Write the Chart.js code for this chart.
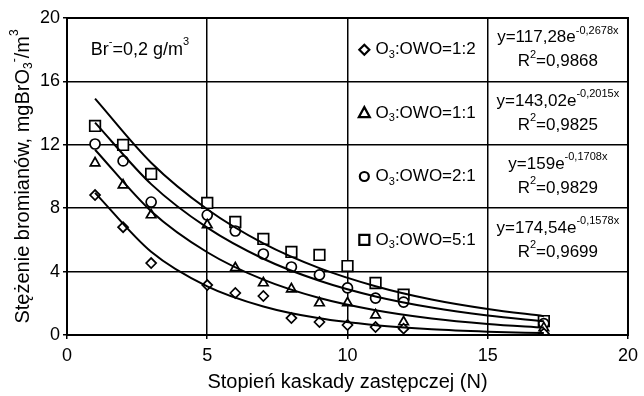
<!DOCTYPE html>
<html>
<head>
<meta charset="utf-8">
<script src="https://cdn.jsdelivr.net/npm/chart.js@4/dist/chart.umd.min.js"></script>
<style>
  html, body { margin: 0; padding: 0; background: #fff; }
  #wrap { width: 644px; height: 396px; }
</style>
</head>
<body>
<div id="wrap"><canvas id="c"></canvas></div>
<script>
// stages of the cascade (x) and measured bromate for each O3:OWO ratio
const stages = [1, 2, 3, 5, 6, 7, 8, 9, 10, 11, 12, 17];
const ratio12 = [8.83, 6.8, 4.54, 3.15, 2.65, 2.46, 1.07, 0.82, 0.63, 0.5, 0.4, 0.1];
const ratio11 = [10.85, 9.46, 7.57, 6.94, 4.23, 3.28, 2.9, 2.02, 2.02, 1.26, 0.82, 0.45];
const ratio21 = [12.05, 10.98, 8.39, 7.57, 6.56, 5.11, 4.29, 3.79, 2.97, 2.33, 2.08, 0.72];
const ratio51 = [13.19, 11.99, 10.16, 8.33, 7.13, 6.06, 5.24, 5.05, 4.35, 3.28, 2.55, 0.88];

// trend curves
const trendX = [1, 3, 5, 7, 9, 11, 13, 15, 17];
const trend12 = [8.97, 5.25, 3.07, 1.8, 1.05, 0.62, 0.36, 0.21, 0.12];
const trend11 = [11.69, 7.81, 5.22, 3.49, 2.33, 1.56, 1.04, 0.7, 0.47];
const trend21 = [13.4, 9.52, 6.77, 4.81, 3.42, 2.43, 1.73, 1.23, 0.87];
const trend51 = [14.91, 10.87, 7.93, 5.78, 4.22, 3.08, 2.24, 1.64, 1.19];

const xTicks = [0, 5, 10, 15, 20];
const yTicks = [0, 4, 8, 12, 16, 20];

const seriesNames = ['O3:OWO=1:2', 'O3:OWO=1:1', 'O3:OWO=2:1', 'O3:OWO=5:1'];
const equations = [
  ['117,28', '-0,2678x', '0,9868'],
  ['143,02', '-0,2015x', '0,9825'],
  ['159', '-0,1708x', '0,9829'],
  ['174,54', '-0,1578x', '0,9699']
];

const FONT = '"Liberation Sans", Arial, sans-serif';

function pts(xs, ys) {
  return xs.map((x, i) => ({ x: x, y: ys[i] }));
}

function markerSet(data, style, r) {
  return {
    type: 'scatter',
    data: data,
    pointStyle: style,
    pointRadius: r,
    pointHoverRadius: r,
    pointBorderWidth: 1.7,
    pointBorderColor: '#000',
    pointBackgroundColor: '#fff',
    showLine: false
  };
}

function trendSet(data) {
  return {
    type: 'line',
    data: data,
    borderColor: '#000',
    borderWidth: 2,
    pointRadius: 0,
    fill: false,
    cubicInterpolationMode: 'monotone'
  };
}

// text with sub/superscripts: runs = [[text, 'n'|'sub'|'sup'], ...]
function runWidth(ctx, runs, size) {
  let w = 0;
  runs.forEach(([t, k]) => {
    ctx.font = (k === 'n' ? size : Math.round(size * 0.62)) + 'px ' + FONT;
    w += ctx.measureText(t).width;
  });
  return w;
}

function drawRuns(ctx, runs, x, y, size, align) {
  let cx = align === 'center' ? x - runWidth(ctx, runs, size) / 2 : x;
  ctx.textBaseline = 'middle';
  ctx.textAlign = 'left';
  runs.forEach(([t, k]) => {
    const s = k === 'n' ? size : Math.round(size * 0.62);
    ctx.font = s + 'px ' + FONT;
    const dy = k === 'sup' ? -size * 0.42 : k === 'sub' ? size * 0.3 : 0;
    ctx.fillText(t, cx, y + dy);
    cx += ctx.measureText(t).width;
  });
}

function drawMarker(ctx, kind, x, y) {
  ctx.beginPath();
  if (kind === 'diamond') {
    ctx.moveTo(x, y - 5); ctx.lineTo(x + 5, y); ctx.lineTo(x, y + 5); ctx.lineTo(x - 5, y); ctx.closePath();
  } else if (kind === 'triangle') {
    ctx.moveTo(x, y - 6); ctx.lineTo(x + 5.5, y + 4); ctx.lineTo(x - 5.5, y + 4); ctx.closePath();
  } else if (kind === 'circle') {
    ctx.arc(x, y, 4.5, 0, Math.PI * 2);
  } else {
    ctx.rect(x - 5, y - 5, 10, 10);
  }
  ctx.stroke();
}

const annotations = {
  id: 'annotations',
  afterDraw(chart) {
    const ctx = chart.ctx;
    const xs = chart.scales.x, ys = chart.scales.y;
    const area = chart.chartArea;
    ctx.save();
    ctx.fillStyle = '#000';
    ctx.strokeStyle = '#000';

    // frame
    ctx.lineWidth = 2;
    ctx.strokeRect(area.left, area.top, area.right - area.left, area.bottom - area.top);

    // y title
    ctx.save();
    ctx.translate(23, (area.top + area.bottom) / 2);
    ctx.rotate(-Math.PI / 2);
    drawRuns(ctx, [['Stężenie bromianów, mgBrO', 'n'], ['3', 'sub'], ['-', 'sup'], ['/m', 'n'], ['3', 'sup']], 0, 0, 20, 'center');
    ctx.restore();

    // bromide dose
    drawRuns(ctx, [['Br', 'n'], ['-', 'sup'], ['=0,2 g/m', 'n'], ['3', 'sup']],
      xs.getPixelForValue(2.6), ys.getPixelForValue(18), 18, 'center');

    // legend cells and equations
    const kinds = ['diamond', 'triangle', 'circle', 'square'];
    const rowY = [18, 14, 10, 6];
    ctx.lineWidth = 2.2;
    seriesNames.forEach((name, i) => {
      const py = ys.getPixelForValue(rowY[i]);
      drawMarker(ctx, kinds[i], xs.getPixelForValue(10.6), py);
      drawRuns(ctx, [['O', 'n'], ['3', 'sub'], [name.slice(2), 'n']], xs.getPixelForValue(11.0), py, 17, 'left');
      const ex = xs.getPixelForValue(17.5);
      const eq = equations[i];
      drawRuns(ctx, [['y=' + eq[0] + 'e', 'n'], [eq[1], 'sup']], ex, py - 12, 17, 'center');
      drawRuns(ctx, [['R', 'n'], ['2', 'sup'], ['=' + eq[2], 'n']], ex, py + 12, 17, 'center');
    });
    ctx.restore();
  }
};

new Chart(document.getElementById('c'), {
  data: {
    datasets: [
      trendSet(pts(trendX, trend12)),
      trendSet(pts(trendX, trend11)),
      trendSet(pts(trendX, trend21)),
      trendSet(pts(trendX, trend51)),
      markerSet(pts(stages, ratio12), 'rectRot', 5),
      markerSet(pts(stages, ratio11), 'triangle', 5.5),
      markerSet(pts(stages, ratio21), 'circle', 5),
      markerSet(pts(stages, ratio51), 'rect', 7.5)
    ]
  },
  options: {
    responsive: true,
    maintainAspectRatio: false,
    animation: false,
    layout: { padding: { top: 18, right: 14, left: 0, bottom: 0 } },
    plugins: { legend: { display: false }, tooltip: { enabled: false } },
    scales: {
      x: {
        type: 'linear',
        min: 0,
        max: 20,
        afterBuildTicks: (s) => { s.ticks = xTicks.map(v => ({ value: v })); },
        afterFit: (s) => { s.height = 61; },
        grid: { color: '#000', lineWidth: 1.5, tickLength: 4 },
        border: { display: false },
        ticks: { color: '#000', font: { family: FONT, size: 18 }, padding: 6, maxRotation: 0 },
        title: { display: true, text: 'Stopień kaskady zastępczej (N)', color: '#000', font: { family: FONT, size: 20 }, padding: { top: 0, bottom: 2 } }
      },
      y: {
        type: 'linear',
        min: 0,
        max: 20,
        afterBuildTicks: (s) => { s.ticks = yTicks.map(v => ({ value: v })); },
        afterFit: (s) => { s.width = 67; },
        grid: { color: '#000', lineWidth: 1.5, tickLength: 4 },
        border: { display: false },
        ticks: { color: '#000', font: { family: FONT, size: 18 }, padding: 3 }
      }
    }
  },
  plugins: [annotations]
});
</script>
</body>
</html>
